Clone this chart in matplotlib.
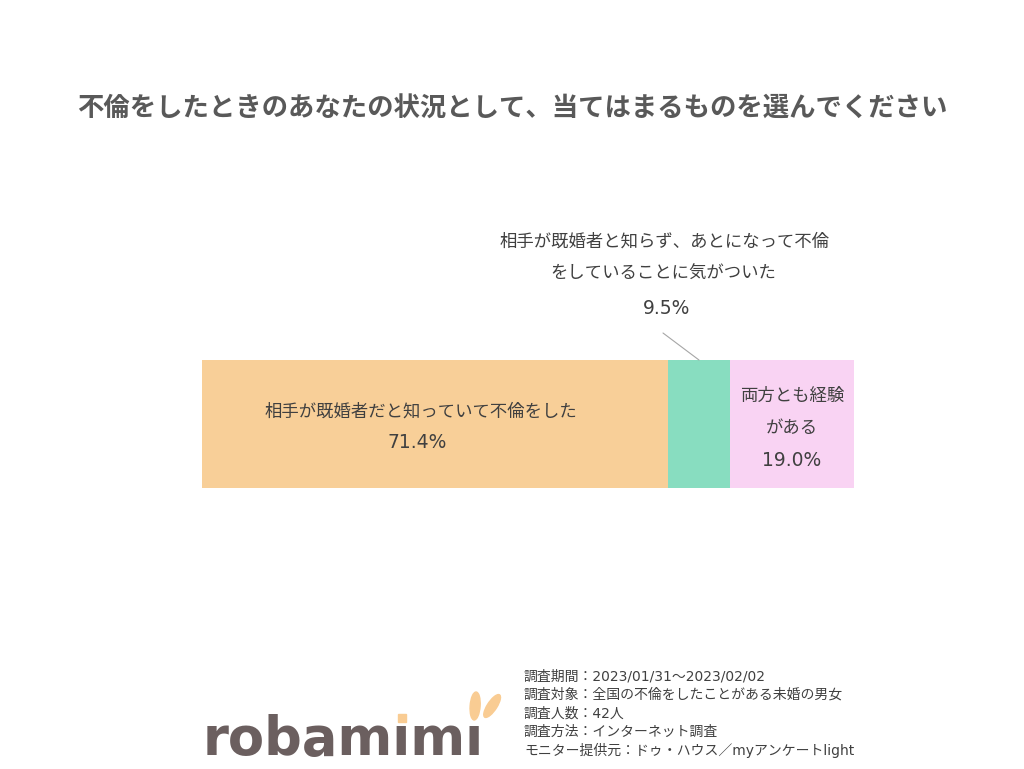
import matplotlib
matplotlib.use("Agg")
import matplotlib.pyplot as plt
from matplotlib.patches import Ellipse, Rectangle

plt.rcParams['font.family'] = ['Noto Sans CJK JP', 'DejaVu Sans']

# --- data ---------------------------------------------------------------
TITLE = "不倫をしたときのあなたの状況として、当てはまるものを選んでください"
categories = [
    "相手が既婚者だと知っていて不倫をした",
    "相手が既婚者と知らず、あとになって不倫\nをしていることに気がついた",
    "両方とも経験\nがある",
]
values = [71.4, 9.5, 19.0]
colors = ["#F8CF98", "#88DDC0", "#F9D3F3"]
notes = [
    "調査期間：2023/01/31～2023/02/02",
    "調査対象：全国の不倫をしたことがある未婚の男女",
    "調査人数：42人",
    "調査方法：インターネット調査",
    "モニター提供元：ドゥ・ハウス／myアンケートlight",
]

TXT = "#404040"
LAT = ['DejaVu Sans', 'Noto Sans CJK JP']   # latin glyphs wider, like Meiryo
W, H = 1024, 769

fig = plt.figure(figsize=(10.24, 7.69), dpi=100)
fig.patch.set_facecolor("white")

fig.text(0.5, 1 - 109 / H, TITLE, ha="center", va="center",
         fontsize=19, fontweight="bold", color="#595959")

# bar axes
ax = fig.add_axes([202 / W, 1 - 488 / H, 652 / W, 128 / H])
left = 0
lefts = []
for v, c in zip(values, colors):
    ax.barh(0, v, left=left, height=1.0, color=c, edgecolor="none")
    lefts.append(left)
    left += v
ax.set_xlim(0, sum(values))
ax.set_ylim(-0.5, 0.5)
ax.axis("off")


def put(x, dx, dy, s, size=12.5, family=None):
    ax.annotate(s, xy=(x, 0), xycoords="data", xytext=(dx, dy),
                textcoords="offset pixels", ha="center", va="center",
                fontsize=size, color=TXT, annotation_clip=False,
                family=family)


# first segment
m0 = lefts[0] + values[0] / 2
put(m0, -14, 12, categories[0])
put(m0, -18, -19, f"{values[0]:.1f}%", size=13.5, family=LAT)

# last segment
m2 = lefts[2] + values[2] / 2
l2 = categories[2].split("\n")
put(m2, 0, 28, l2[0])
put(m2, 0, -4, l2[1])
put(m2, 0, -37, f"{values[2]:.1f}%", size=13.5, family=LAT)

# small segment: callout above
m1 = lefts[1] + values[1] / 2
l1 = categories[1].split("\n")
put(m1, -34, 182, l1[0])
put(m1, -36, 150, l1[1])
put(m1, -32, 116, f"{values[1]:.1f}%", size=13.5, family=LAT)
ax.annotate("", xy=(m1, 0.5), xycoords="data", xytext=(-36, 27),
            textcoords="offset pixels", annotation_clip=False,
            arrowprops=dict(arrowstyle="-", color="#A6A6A6", lw=0.8,
                            shrinkA=0, shrinkB=0))

# footer notes
for i, line in enumerate(notes):
    fig.text(524 / W, 1 - (676 + i * 18.6) / H, line, ha="left", va="center",
             fontsize=10, color=TXT, family=LAT)

# logo: "robamimi" with dotless i, orange dot and ears drawn separately
LOGO = "robamımı"
logo_kw = dict(fontsize=38, fontweight="bold", color="#6B5F5F",
               family="DejaVu Sans")
x0, base = 203 / W, 1 - 755 / H
fig.text(x0, base, LOGO, ha="left", va="baseline", **logo_kw)
r = fig.canvas.get_renderer()


def width_px(s):
    t = fig.text(0, 0, s, **logo_kw)
    w = t.get_window_extent(r).width
    t.remove()
    return w


i1 = 203 + (width_px("robam") + width_px("robamı")) / 2
i2 = 203 + (width_px("robamımı") + width_px("robamım")) / 2
fig.patches.append(Rectangle(((i1 - 4) / W, 1 - 722 / H), 8 / W, 8 / H,
                             transform=fig.transFigure, color="#F9CC93"))
fig.patches.append(Ellipse((i2 / W, 1 - 706 / H), 10 / W, 28 / H,
                           angle=-3, transform=fig.transFigure,
                           color="#F9CC93", zorder=3))
fig.patches.append(Ellipse(((i2 + 17) / W, 1 - 706 / H), 10 / W, 25 / H,
                           angle=-25, transform=fig.transFigure,
                           color="#F9CC93", zorder=3))

fig.savefig("out.png", dpi=100, facecolor="white")
